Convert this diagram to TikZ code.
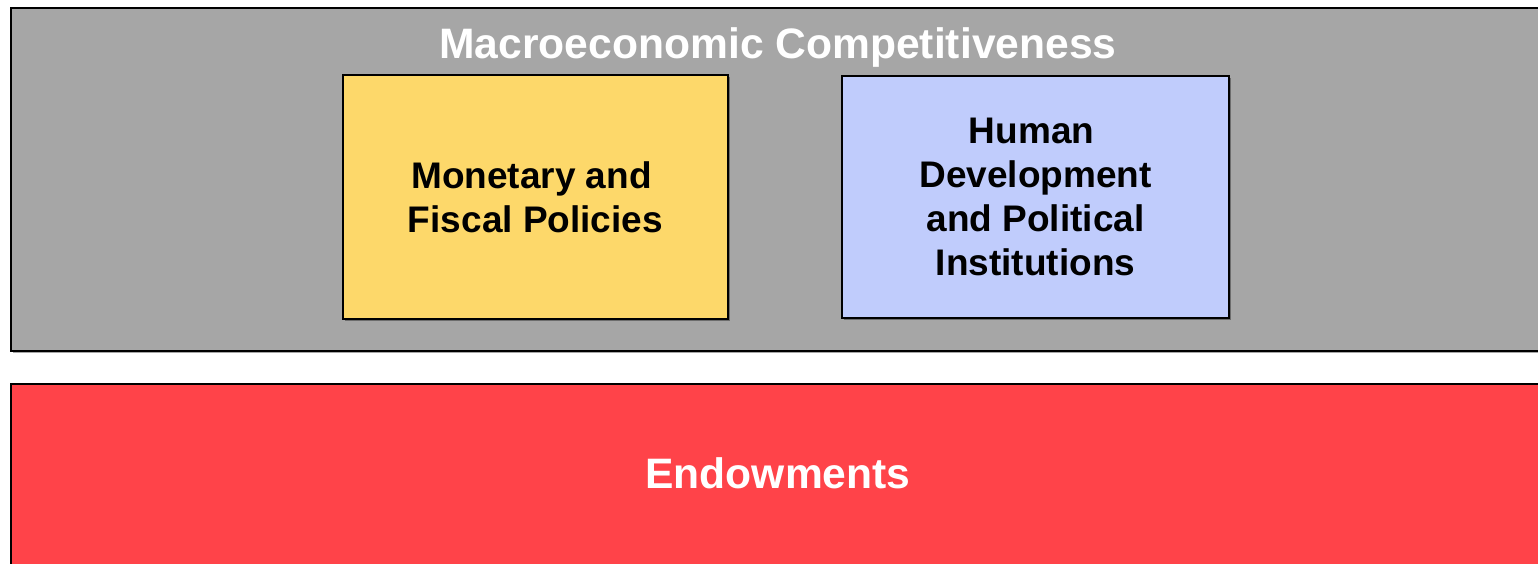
\documentclass[tikz,border=0pt]{standalone}
\usepackage{fontspec}
\setmainfont{Liberation Sans}
\usetikzlibrary{shadows, positioning}

\definecolor{macrogray}{HTML}{A6A6A6}
\definecolor{policyyellow}{HTML}{FDD86A}
\definecolor{humanblue}{HTML}{C0CCFC}
\definecolor{endowred}{HTML}{FF4349}

\tikzset{
  layerbox/.style={draw=black, line width=2pt, inner sep=0pt, anchor=north west,
    drop shadow={shadow xshift=1.5pt, shadow yshift=-1.5pt, fill=black, opacity=0.35}},
  pillarbox/.style={layerbox, align=center, anchor=center,
    font=\fontsize{37}{44}\selectfont\bfseries},
  layertitle/.style={anchor=base, text=white, font=\fontsize{42.6}{50}\selectfont\bfseries}
}

\begin{document}
\begin{tikzpicture}[x=1pt, y=-1pt]
\useasboundingbox (0,0) rectangle (1538,563);

%% macro layer
\node (macro) [layerbox, fill=macrogray, minimum width=1536pt, minimum height=343pt] at (10,7) {};
\node (macrotitle) [layertitle] at (778,58) {Macroeconomic Competitiveness};

\node (monetary) [pillarbox, fill=policyyellow, minimum width=385pt, minimum height=244pt]
  at (535.5,197) {Monetary and\hspace*{8pt}\\Fiscal Policies};
\node (human) [pillarbox, fill=humanblue, minimum width=387pt, minimum height=242pt]
  at (1035.5,197) {Human\hspace*{8pt}\\Development\hspace*{8pt}\\and Political\hspace*{8pt}\\Institutions};

%% endowments layer
\node (endow) [layerbox, fill=endowred, minimum width=1536pt, minimum height=184pt] at (10,383) {};
\node (endowtitle) [layertitle] at (778,488) {Endowments};

\end{tikzpicture}
\end{document}
